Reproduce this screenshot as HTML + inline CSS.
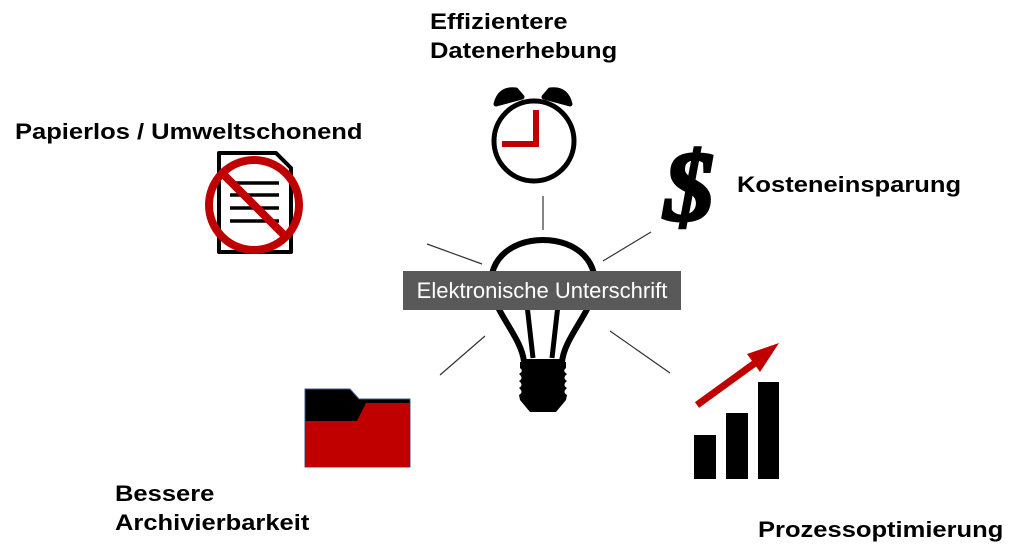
<!DOCTYPE html>
<html><head><meta charset="utf-8"><style>
body{margin:0;width:1024px;height:560px;background:#fff;position:relative;overflow:hidden;font-family:"Liberation Sans",sans-serif}
.t{position:absolute;font-weight:bold;font-size:22px;color:#000;line-height:29px;transform:scaleX(1.16);transform-origin:0 0;white-space:nowrap}
.lab{position:absolute;left:403px;top:271px;width:278px;height:39px;background:#595959;color:#fff;font-size:22px;line-height:39px;text-align:center}
svg{position:absolute;left:0;top:0}
</style></head><body>
<svg width="1024" height="560" viewBox="0 0 1024 560">
<g stroke="#333" stroke-width="1.2">
<line x1="543" y1="196" x2="543" y2="230"/>
<line x1="427" y1="244" x2="482" y2="264"/>
<line x1="651" y1="232" x2="603" y2="261"/>
<line x1="485" y1="336" x2="440" y2="375"/>
<line x1="610" y1="331" x2="670" y2="373"/>
</g>
<!-- clock -->
<path d="M496,104 Q500,88 516,90 L522,97 Z" fill="#000" stroke="#000" stroke-width="5" stroke-linejoin="round"/>
<path d="M570,104 Q566,88 550,90 L544,97 Z" fill="#000" stroke="#000" stroke-width="5" stroke-linejoin="round"/>
<circle cx="534" cy="141" r="40" fill="#fff" stroke="#000" stroke-width="5"/>
<path d="M536,110 L536,144 L502,144" fill="none" stroke="#c00000" stroke-width="6"/>
<!-- bulb -->
<path d="M524,362 C522,340 500,318 493,295 C484,262 510,240 543,240 C576,240 602,262 593,295 C586,318 564,340 562,362 Z" fill="#fff" stroke="#000" stroke-width="6" stroke-linejoin="round"/>
<path d="M527,305 L533,358 M558,305 L552,358" stroke="#000" stroke-width="5"/>
<path d="M520,362 L566,362 L566,368 Q562,371 567,374 Q562,378 567,381 Q562,385 567,388 Q562,392 567,395 L566,400 L556,412 L530,412 L520,400 L519,395 Q524,392 519,388 Q524,385 519,381 Q524,378 519,374 Q524,371 520,368 Z" fill="#000"/>
<!-- document no -->
<path d="M219,153 L276,153 L291,168 L291,252 L219,252 Z" fill="#fff" stroke="#000" stroke-width="4" stroke-linejoin="round"/>
<path d="M230,183 L279,183 M230,195 L279,195 M230,208 L279,208 M230,221 L279,221" stroke="#000" stroke-width="3.5"/>
<circle cx="254" cy="205" r="45" fill="none" stroke="#c00000" stroke-width="8"/>
<line x1="223" y1="174" x2="285" y2="236" stroke="#c00000" stroke-width="8"/>
<!-- dollar -->
<text x="664" y="220" font-family="Liberation Serif,serif" font-style="italic" font-weight="bold" font-size="100" fill="#000" stroke="#000" stroke-width="3">$</text>
<!-- folder -->
<path d="M305,389 L350,389 L359,399 L410,399 L410,467 L305,467 Z" fill="#000" stroke="#3b5a8a" stroke-width="1"/>
<path d="M305,421 L357,421 L366,403 L410,403 L410,467 L305,467 Z" fill="#c00000"/>
<!-- chart -->
<rect x="694" y="435" width="22" height="44" fill="#000"/>
<rect x="726" y="413" width="22" height="66" fill="#000"/>
<rect x="758" y="382" width="21" height="97" fill="#000"/>
<line x1="697" y1="405" x2="755" y2="363" stroke="#c00000" stroke-width="7"/>
<polygon points="779,343 747,354 760,372" fill="#c00000"/>
</svg>
<div class="t" style="left:430px;top:7px">Effizientere<br>Datenerhebung</div>
<div class="t" style="left:15px;top:117px">Papierlos / Umweltschonend</div>
<div class="t" style="left:737px;top:170px">Kosteneinsparung</div>
<div class="t" style="left:115px;top:479px">Bessere<br>Archivierbarkeit</div>
<div class="t" style="left:758px;top:515px">Prozessoptimierung</div>
<div class="lab">Elektronische Unterschrift</div>
</body></html>
